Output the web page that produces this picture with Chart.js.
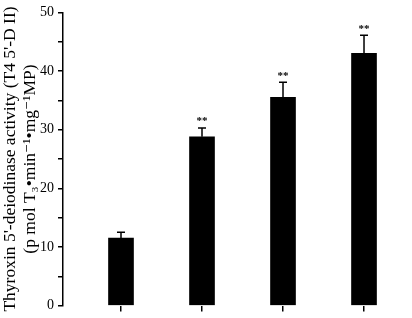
<!DOCTYPE html>
<html>
<head>
<meta charset="utf-8">
<script src="https://cdn.jsdelivr.net/npm/chart.js@4"></script>
<style>
  html, body { margin: 0; padding: 0; background: #fff; }
  #wrap { width: 412px; height: 318px; position: relative; }
</style>
</head>
<body>
<div id="wrap"><canvas id="pf-chart"></canvas></div>
<script>
// groups (no labels printed on the original axis)
var groups = ["1", "2", "3", "4"];
var activity = [11.5, 28.8, 35.5, 43.0];
var activityErr = [1.0, 1.5, 2.6, 3.1];
var marks = ["", "**", "**", "**"];
var yTicks = [0, 10, 20, 30, 40, 50];

var serif = "'Liberation Serif', 'DejaVu Serif', serif";

/* error bars + significance stars ------------------------------ */
var errorBars = {
	id: "errorBars",
	afterDatasetsDraw: function(chart){
		var ctx = chart.ctx, xs = chart.scales.x, ys = chart.scales.y;
		ctx.save();
		ctx.strokeStyle = "#000";
		ctx.fillStyle = "#000";
		ctx.lineWidth = 1.5;
		groups.forEach(function(g, i){
			var x = xs.getPixelForValue(i + 1);
			var yBar = ys.getPixelForValue(activity[i]);
			var yTop = ys.getPixelForValue(activity[i] + activityErr[i]);
			ctx.beginPath();
			ctx.moveTo(x, yBar);
			ctx.lineTo(x, yTop);
			ctx.moveTo(x - 4, yTop);
			ctx.lineTo(x + 4, yTop);
			ctx.stroke();
			if (marks[i]) {
				ctx.font = "bold 11px " + serif;
				ctx.textAlign = "center";
				ctx.textBaseline = "bottom";
				ctx.fillText(marks[i], x, yTop - 1);
			}
		});
		ctx.restore();
	}
};

var chart = new Chart(document.getElementById("pf-chart"), {
	type: "bar",
	data: {
		datasets: [{
			data: activity.map(function(v, i){ return { x: i + 1, y: v }; }),
			backgroundColor: "#000",
			borderWidth: 0,
			barThickness: 25
		}]
	},
	options: {
		responsive: true,
		maintainAspectRatio: false,
		animation: false,
		layout: { padding: { top: 10, right: 7, bottom: 0, left: 0 } },
		plugins: {
			legend: { display: false },
			tooltip: { enabled: false }
		},
		scales: {
			x: {
				type: "linear",
				offset: false,
				min: 0.284,
				max: 4.506,
				afterBuildTicks: function(scale){
					scale.ticks = groups.map(function(g, i){ return { value: i + 1 }; });
				},
				afterFit: function(scale){ scale.height = 8; },
				border: { display: false },
				grid: { offset: false, drawOnChartArea: false, drawTicks: true, tickLength: 6, color: "#000", lineWidth: 1.5 },
				ticks: { display: false }
			},
			y: {
				min: 0,
				max: 50,
				afterFit: function(scale){ scale.width = 63; },
				border: { display: true, color: "#000", width: 1.5 },
				grid: { drawOnChartArea: false, drawTicks: true, tickLength: 5, color: "#000", lineWidth: 1.5 },
				ticks: {
					stepSize: 5,
					padding: 4,
					color: "#000",
					font: { family: serif, size: 14 },
					callback: function(v){ return yTicks.indexOf(v) >= 0 ? v : ""; }
				},
				title: {
					display: true,
					text: ["Thyroxin 5'-deiodinase activity (T4 5'-D II)", "(p mol T\u2083\u2022min\u207B\u00B9\u2022mg\u207B\u00B9MP)"],
					color: "#000",
					font: { family: serif, size: 17.5, lineHeight: 1.17 },
					padding: { top: 0, bottom: 0 }
				}
			}
		}
	},
	plugins: [errorBars]
});
</script>
</body>
</html>
